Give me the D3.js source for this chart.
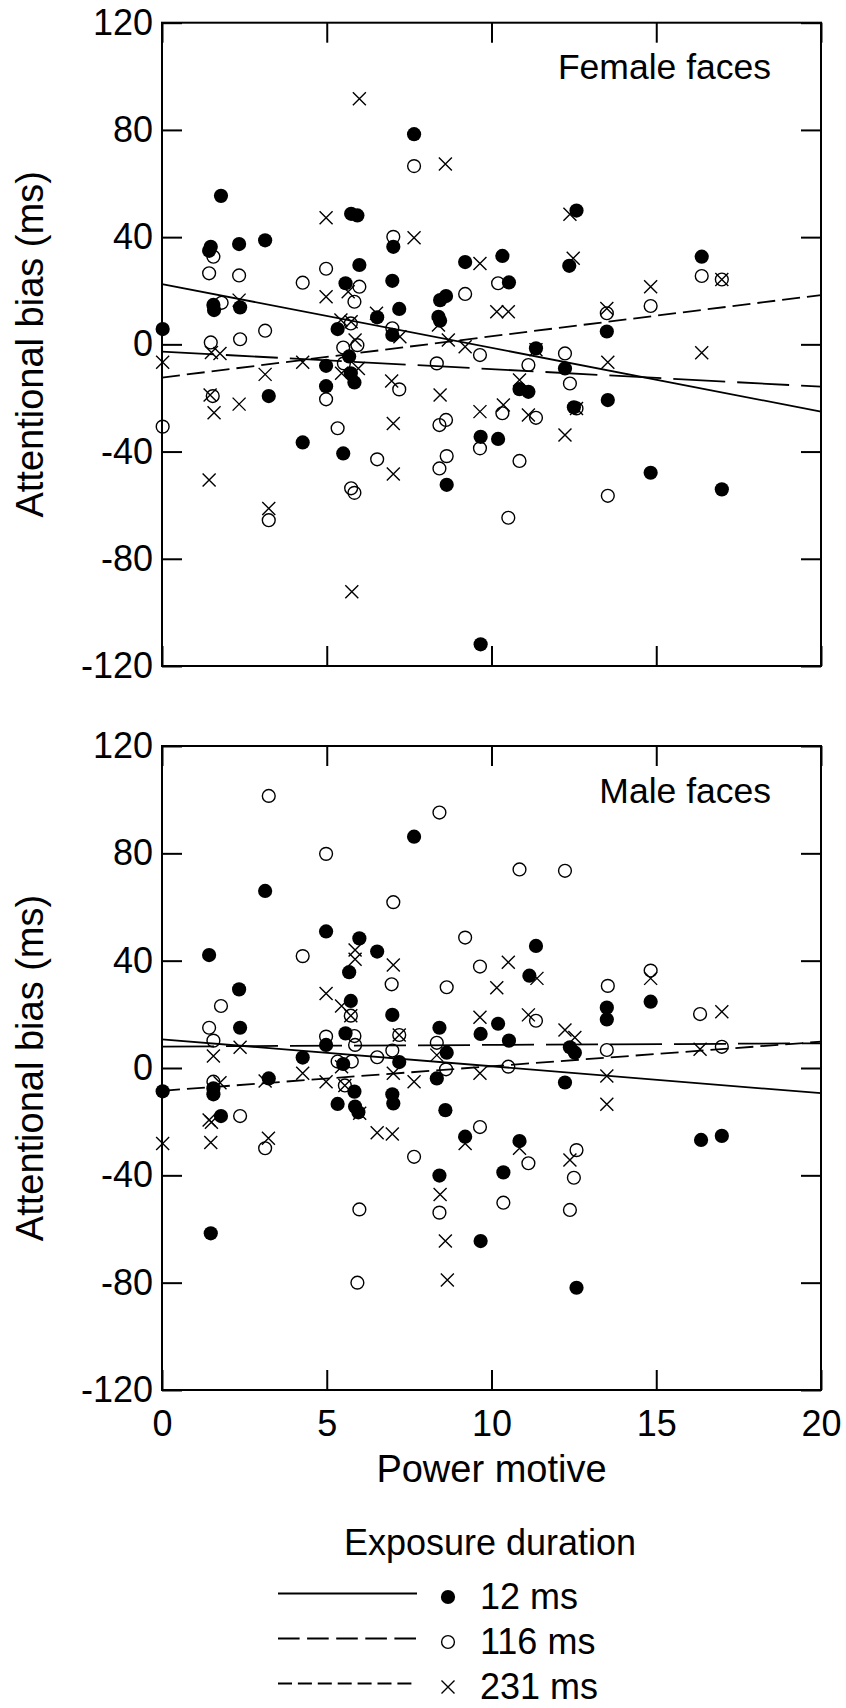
<!DOCTYPE html>
<html>
<head>
<meta charset="utf-8">
<script src="https://cdn.jsdelivr.net/npm/d3@7"></script>
<style>
  body { margin: 0; background: #fff; }
  svg text { font-family: "Liberation Sans", Arial, Helvetica, sans-serif; fill: #000; }
</style>
</head>
<body>
<div id="chart"></div>
<script>
var xTicks = [0, 5, 10, 15, 20]
var yTicks = [-120, -80, -40, 0, 40, 80, 120]
var panelNames = ["Female faces", "Male faces"]
var seriesNames = ["12 ms", "116 ms", "231 ms"]

// [power motive, attentional bias] per participant, female faces
var female12 = [[0.02,5.7],[1.43,34.9],[1.48,36.4],[1.56,14.7],[1.58,12.8],[1.79,55.4],[2.34,37.4],[2.37,13.8],[3.13,38.8],[3.24,-19.3],[4.27,-36.6],[4.98,-8.0],[4.98,-15.6],[5.33,5.7],[5.5,-40.7],[5.57,22.8],[5.68,-4.5],[5.73,-10.8],[5.74,48.7],[5.84,-14.2],[5.93,48.1],[5.99,29.6],[6.53,10.1],[6.99,23.7],[6.99,3.5],[7.02,36.4],[7.2,13.2],[7.65,78.4],[8.39,10.3],[8.44,8.8],[8.44,16.5],[8.62,18.0],[8.64,-52.4],[9.2,30.7],[9.67,-34.5],[9.67,-111.9],[10.2,-35.3],[10.33,33.0],[10.53,23.1],[10.85,-16.7],[11.12,-17.7],[11.35,-1.5],[12.23,-9.0],[12.36,29.3],[12.5,-23.5],[12.58,49.9],[13.5,4.8],[13.53,-20.8],[14.83,-47.9],[16.38,32.7],[16.99,-54.1]]
var female116 = [[0.02,-30.7],[1.43,26.5],[1.48,0.7],[1.54,-19.3],[1.56,32.7],[1.81,15.5],[2.34,25.7],[2.37,1.9],[3.13,5.1],[3.24,-65.6],[4.27,23.0],[4.98,28.2],[4.98,-20.5],[5.33,-31.3],[5.5,-1.2],[5.52,-7.1],[5.73,7.8],[5.74,-53.7],[5.84,15.9],[5.84,-55.4],[5.93,-0.3],[5.99,21.5],[6.53,-42.9],[6.99,6.0],[7.02,40.1],[7.2,-16.8],[7.65,66.5],[8.34,-7.1],[8.42,-30.1],[8.42,-46.3],[8.62,-28.2],[8.64,-41.7],[9.2,18.8],[9.65,-4.0],[9.65,-38.8],[10.2,22.8],[10.33,-25.7],[10.51,-64.7],[10.85,-43.5],[11.12,-7.7],[11.35,-27.4],[12.23,-3.4],[12.38,-14.6],[12.58,-23.9],[13.5,11.6],[13.53,-56.5],[14.83,14.3],[16.38,25.5],[16.99,24.2]]
var female231 = [[0.02,-6.7],[1.43,-50.6],[1.46,-18.9],[1.5,-3.0],[1.58,-25.5],[1.76,-3.4],[2.34,16.5],[2.34,-22.3],[3.13,-11.2],[3.24,-61.2],[4.27,-6.7],[4.98,47.2],[4.98,17.8],[5.43,9.1],[5.45,-10.8],[5.65,19.6],[5.74,8.4],[5.76,-92.3],[5.86,1.6],[5.96,-9.0],[5.99,91.6],[6.51,11.6],[6.97,-13.7],[7.02,-29.5],[7.02,-48.4],[7.22,2.8],[7.65,39.8],[8.39,7.2],[8.44,-18.9],[8.6,67.3],[8.69,1.6],[9.2,-0.9],[9.65,30.2],[9.65,-25.1],[10.16,12.2],[10.36,-22.6],[10.51,12.2],[10.85,-13.3],[11.12,-26.4],[11.35,-2.0],[12.23,-33.8],[12.38,48.5],[12.48,32.1],[12.58,-23.9],[13.5,13.4],[13.53,-6.7],[14.83,21.5],[16.38,-3.1],[16.99,24.2]]

// same, male faces
var male12 = [[0.02,-8.7],[1.43,42.1],[1.48,-61.6],[1.56,-7.6],[1.56,-9.8],[1.79,-17.9],[2.34,29.3],[2.37,15.0],[3.13,66.0],[3.24,-3.9],[4.27,3.9],[4.98,50.9],[4.98,8.6],[5.33,-13.4],[5.5,1.5],[5.57,12.9],[5.68,35.7],[5.73,25.0],[5.84,-8.8],[5.86,-14.4],[5.96,-16.5],[5.99,48.3],[6.53,43.4],[6.99,19.8],[6.99,-9.8],[7.02,-13.2],[7.2,2.2],[7.65,86.2],[8.34,-3.9],[8.42,15.0],[8.42,-40.1],[8.6,-15.7],[8.64,5.7],[9.2,-25.6],[9.67,12.7],[9.67,-64.5],[10.2,16.5],[10.36,-38.9],[10.53,10.2],[10.85,-27.2],[11.15,34.4],[11.35,45.5],[12.23,-5.4],[12.38,7.7],[12.53,5.7],[12.58,-81.9],[13.5,22.5],[13.5,18.1],[14.83,24.7],[16.36,-26.8],[16.99,-25.3]]
var male116 = [[1.43,15.0],[1.56,10.2],[1.56,-5.1],[1.79,23.1],[2.37,-17.9],[3.13,-29.9],[3.24,101.4],[4.27,41.7],[4.98,79.8],[4.98,11.7],[5.33,2.4],[5.55,-6.5],[5.73,19.5],[5.76,2.4],[5.84,11.9],[5.86,8.6],[5.93,-80.0],[5.99,-52.7],[6.53,4.0],[6.97,31.2],[6.99,6.5],[7.02,61.8],[7.2,12.3],[7.65,-33.1],[8.34,9.4],[8.42,95.2],[8.42,-53.9],[8.62,-0.5],[8.64,30.1],[9.2,48.6],[9.65,37.8],[9.65,-22.0],[10.36,-50.2],[10.51,0.5],[10.85,74.0],[11.12,-35.5],[11.35,17.6],[12.23,73.5],[12.38,-52.9],[12.5,-40.9],[12.58,-30.6],[13.5,6.7],[13.53,30.6],[14.83,36.3],[16.33,20.1],[16.99,7.9]]
var male231 = [[0.02,-28.1],[1.43,-19.4],[1.5,-20.2],[1.48,-27.8],[1.56,4.5],[1.76,-5.5],[2.37,7.7],[3.13,-4.8],[3.23,-26.2],[4.27,-2.0],[4.98,27.8],[4.98,-5.1],[5.45,23.1],[5.45,0.5],[5.55,-6.5],[5.73,19.5],[5.86,44.0],[5.86,40.5],[6.0,-16.9],[6.53,-24.1],[6.99,-24.6],[7.02,38.4],[7.02,-2.0],[7.2,12.3],[7.65,-5.1],[8.34,4.8],[8.44,-47.1],[8.6,-64.5],[8.66,-79.0],[9.2,-28.1],[9.65,18.9],[9.65,-2.0],[10.16,29.9],[10.51,39.4],[10.85,-29.9],[11.12,19.8],[11.38,33.4],[12.23,14.2],[12.38,-34.3],[12.53,11.4],[13.5,-3.0],[13.5,-13.5],[14.83,33.4],[16.33,7.0],[16.99,21.0]]

// regression lines: bias at power motive 0 and at 20 (12, 116, 231 ms)
var femaleFits = [[22.5, -25.1], [-2.7, -15.8], [-12.4, 18.4]]
var maleFits = [[10.7, -9.4], [8.0, 9.2], [-8.5, 9.8]]

var width = 846, height = 1708
var plot = { "left": 162, "right": 821 }
var panels = [
  { "name": panelNames[0], "top": 22.7, "bottom": 666, "series": [female12, female116, female231], "fits": femaleFits, "xLabels": false },
  { "name": panelNames[1], "top": 746, "bottom": 1390, "series": [male12, male116, male231], "fits": maleFits, "xLabels": true }
]
var lineDash = ["none", "52,12", "18,7"]
var legendDash = ["none", "21.6,7.5", "14,5.9"]

var svg = d3.select("#chart").append("svg")
  .attr("width", width)
  .attr("height", height)

var x = d3.scaleLinear().domain([0, 20]).range([plot.left, plot.right])

// plain hyphen for negatives, as in the original figure
var plainNumber = function (d) { return String(d) }

function drawMarker(g, kind, cx, cy) {
  if (kind == 0) {
    g.append("circle").attr("cx", cx).attr("cy", cy).attr("r", 7.1)
      .attr("fill", "#000")
  } else if (kind == 1) {
    g.append("circle").attr("cx", cx).attr("cy", cy).attr("r", 6.4)
      .attr("fill", "none").attr("stroke", "#000").attr("stroke-width", 1.4)
  } else {
    var s = 6.5
    g.append("path")
      .attr("d", "M" + (cx - s) + "," + (cy - s) + "L" + (cx + s) + "," + (cy + s) +
                 "M" + (cx - s) + "," + (cy + s) + "L" + (cx + s) + "," + (cy - s))
      .attr("fill", "none").attr("stroke", "#000").attr("stroke-width", 1.4)
  }
}

panels.forEach(function (p) {
  var y = d3.scaleLinear().domain([-120, 120]).range([p.bottom, p.top])
  var g = svg.append("g")

  // axes, ticks pointing inward on all four sides
  g.append("g").attr("transform", "translate(" + plot.left + ",0)")
    .call(d3.axisLeft(y).tickValues(yTicks).tickSize(-20).tickPadding(9).tickSizeOuter(0)
      .tickFormat(plainNumber))
  g.append("g").attr("transform", "translate(" + plot.right + ",0)")
    .call(d3.axisRight(y).tickValues(yTicks).tickSize(-20).tickFormat("").tickSizeOuter(0))
  g.append("g").attr("transform", "translate(0," + p.top + ")")
    .call(d3.axisTop(x).tickValues(xTicks).tickSize(-20).tickFormat("").tickSizeOuter(0))
  g.append("g").attr("transform", "translate(0," + p.bottom + ")")
    .call(d3.axisBottom(x).tickValues(xTicks).tickSize(-20).tickPadding(20).tickSizeOuter(0)
      .tickFormat(p.xLabels ? plainNumber : ""))

  g.selectAll(".domain").remove()
  g.selectAll(".tick line").attr("stroke", "#000").attr("stroke-width", 2)
  g.selectAll(".tick text").attr("font-size", 36).attr("fill", "#000")
    .style("font-family", "'Liberation Sans', Arial, sans-serif")

  g.append("rect")
    .attr("x", plot.left).attr("y", p.top)
    .attr("width", plot.right - plot.left).attr("height", p.bottom - p.top)
    .attr("fill", "none").attr("stroke", "#000").attr("stroke-width", 2)

  // regression lines
  p.fits.forEach(function (f, i) {
    g.append("line")
      .attr("x1", x(0)).attr("y1", y(f[0]))
      .attr("x2", x(20)).attr("y2", y(f[1]))
      .attr("stroke", "#000").attr("stroke-width", 1.8)
      .attr("stroke-dasharray", lineDash[i])
  })

  var marks = g.append("g")
  p.series.forEach(function (pts, kind) {
    pts.forEach(function (d) {
      drawMarker(marks, kind, x(d[0]), y(d[1]))
    })
  })

  g.append("text")
    .attr("x", 771).attr("y", p.top + 56.5)
    .attr("text-anchor", "end")
    .attr("font-size", 35.5)
    .text(p.name)

  g.append("text")
    .attr("transform", "translate(43," + ((p.top + p.bottom) / 2) + ") rotate(-90)")
    .attr("text-anchor", "middle")
    .attr("font-size", 38)
    .text("Attentional bias (ms)")
})

svg.append("text")
  .attr("x", (plot.left + plot.right) / 2).attr("y", 1482)
  .attr("text-anchor", "middle")
  .attr("font-size", 38)
  .text("Power motive")

// legend
var legend = svg.append("g")
legend.append("text")
  .attr("x", 490).attr("y", 1555)
  .attr("text-anchor", "middle")
  .attr("font-size", 36)
  .text("Exposure duration")

seriesNames.forEach(function (name, i) {
  var cy = 1597 + i * 45
  legend.append("line")
    .attr("x1", 278).attr("x2", 417)
    .attr("y1", cy - 3.5).attr("y2", cy - 3.5)
    .attr("stroke", "#000").attr("stroke-width", 2.2)
    .attr("stroke-dasharray", legendDash[i])
  drawMarker(legend, i, 448, cy)
  legend.append("text")
    .attr("x", 480).attr("y", cy + 12)
    .attr("font-size", 36)
    .text(name)
})
</script>
</body>
</html>
